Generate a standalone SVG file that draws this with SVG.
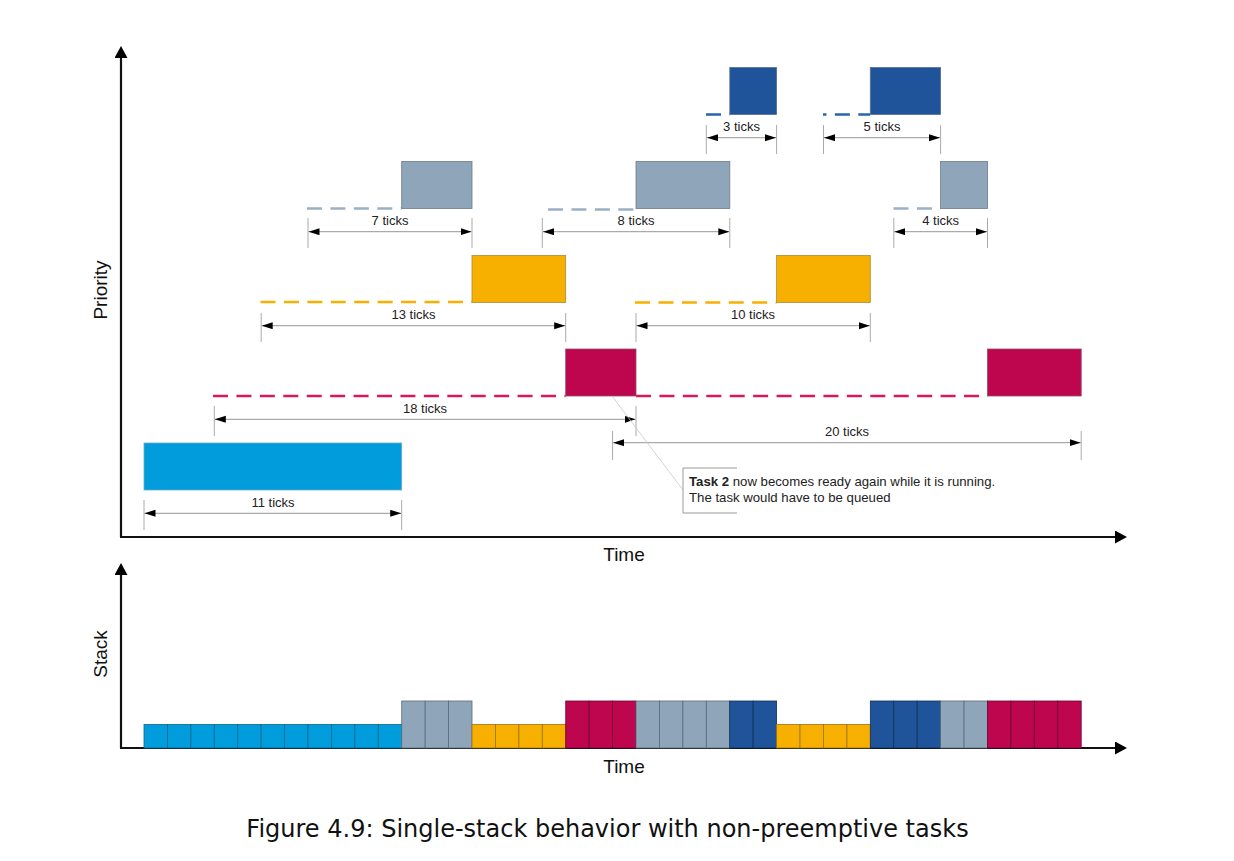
<svg xmlns="http://www.w3.org/2000/svg" width="1234" height="861" viewBox="0 0 1234 861">
<style>
text{font-family:"Liberation Sans",Arial,sans-serif;fill:#222}
.lbl{font-size:13px;text-anchor:middle}
.ax{stroke:#111;stroke-width:2.2;fill:none}
.dim{stroke:#aaa;stroke-width:1.2;fill:none}
.ext{stroke:#aaa;stroke-width:1;fill:none}
.dash{stroke-width:2.6;fill:none;stroke-dasharray:15 8.43}
.blue{fill:#009CDB;stroke:#6fa9c9;stroke-width:0.8}
.grey{fill:#8FA5BA;stroke:#6d7b89;stroke-width:0.8}
.yel{fill:#F7B000;stroke:#a98b3e;stroke-width:0.8}
.red{fill:#BD064E;stroke:#8f5068;stroke-width:0.8}
.dblu{fill:#1F549B;stroke:#5b6f8e;stroke-width:0.8}
.c-blue{fill:#009CDB;stroke:#0a6792;stroke-width:0.8}
.c-grey{fill:#8FA5BA;stroke:#5c6b7a;stroke-width:0.8}
.c-yel{fill:#F7B000;stroke:#9c7413;stroke-width:0.8}
.c-red{fill:#BD064E;stroke:#6e0430;stroke-width:0.8}
.c-dblu{fill:#1F549B;stroke:#0f2f5a;stroke-width:0.8}
.axlbl{font-size:19px;text-anchor:middle;fill:#111}
.note{font-size:13.2px}
</style>
<defs>
<marker id="ah" markerUnits="userSpaceOnUse" markerWidth="12" markerHeight="8" refX="11" refY="3.5" orient="auto-start-reverse">
<path d="M0,0 L11,3.5 L0,7 Z" fill="#000"/>
</marker>
<marker id="axh" markerUnits="userSpaceOnUse" markerWidth="14" markerHeight="14" refX="1" refY="6.5" orient="auto">
<path d="M0,0 L12,6.5 L0,13 Z" fill="#000"/>
</marker>
</defs>

<g id="axes">
<path class="ax" d="M121,537 L121,57" marker-end="url(#axh)"/>
<path class="ax" d="M120,537 L1116,537" marker-end="url(#axh)"/>
<text class="axlbl" x="107" y="290" transform="rotate(-90 107 290)">Priority</text>
<text class="axlbl" x="624" y="561">Time</text>
<path class="ax" d="M121,748 L121,574" marker-end="url(#axh)"/>
<path class="ax" d="M120,748 L1116,748" marker-end="url(#axh)"/>
<text class="axlbl" x="107" y="654" transform="rotate(-90 107 654)">Stack</text>
<text class="axlbl" x="624" y="773">Time</text>
</g>

<g id="waiting-lines">
<path class="dash" stroke="#2A63AE" d="M706,114.5 H729.8"/>
<path class="dash" stroke="#2A63AE" d="M870.3,114.5 H823" style="stroke-dashoffset:3"/>
<path class="dash" stroke="#9BB0C4" d="M307,208.5 H401.7"/>
<path class="dash" stroke="#9BB0C4" d="M548,209.5 H636"/>
<path class="dash" stroke="#9BB0C4" d="M893.5,208.5 H940.6"/>
<path class="dash" stroke="#F7B000" d="M260.5,302 H472"/>
<path class="dash" stroke="#F7B000" d="M635,302.5 H776.6"/>
<path class="dash" stroke="#D9185C" d="M213,396 H565.7"/>
<path class="dash" stroke="#D9185C" d="M636,396 H987.5"/>
</g>

<g id="task-blue"><rect class="blue" x="144" y="443" width="257.7" height="47"/></g>
<g id="task-grey-1"><rect class="grey" x="401.7" y="161.5" width="70.3" height="47"/></g>
<g id="task-yellow-1"><rect class="yel" x="472" y="255.5" width="93.7" height="47"/></g>
<g id="task-red-1"><rect class="red" x="565.7" y="349" width="70.3" height="47"/></g>
<g id="task-grey-2"><rect class="grey" x="636" y="161.5" width="93.8" height="47"/></g>
<g id="task-dblue-1"><rect class="dblu" x="729.8" y="67.5" width="46.8" height="47"/></g>
<g id="task-yellow-2"><rect class="yel" x="776.6" y="255.5" width="93.7" height="47"/></g>
<g id="task-dblue-2"><rect class="dblu" x="870.3" y="67.5" width="70.3" height="47"/></g>
<g id="task-grey-3"><rect class="grey" x="940.6" y="161.5" width="46.9" height="47"/></g>
<g id="task-red-2"><rect class="red" x="987.5" y="349" width="93.7" height="47"/></g>

<g id="dimensions">
<path class="ext" d="M706.3,125 V154 M776.6,125 V154"/>
<path class="dim" d="M707,137.7 H776" marker-start="url(#ah)" marker-end="url(#ah)"/>
<text class="lbl" x="741.5" y="131">3 ticks</text>
<path class="ext" d="M823.5,125 V154 M940.6,125 V154"/>
<path class="dim" d="M824,137.7 H940" marker-start="url(#ah)" marker-end="url(#ah)"/>
<text class="lbl" x="882" y="131">5 ticks</text>

<path class="ext" d="M308,218 V248 M472,218 V248"/>
<path class="dim" d="M308.5,231.7 H471.5" marker-start="url(#ah)" marker-end="url(#ah)"/>
<text class="lbl" x="390" y="225">7 ticks</text>
<path class="ext" d="M542.3,218 V248 M729.8,218 V248"/>
<path class="dim" d="M543,231.7 H729.3" marker-start="url(#ah)" marker-end="url(#ah)"/>
<text class="lbl" x="636" y="225">8 ticks</text>
<path class="ext" d="M893.8,218 V248 M987.5,218 V248"/>
<path class="dim" d="M894.3,231.7 H987" marker-start="url(#ah)" marker-end="url(#ah)"/>
<text class="lbl" x="940.6" y="225">4 ticks</text>

<path class="ext" d="M261.2,313 V342 M565.7,313 V342"/>
<path class="dim" d="M261.7,325.7 H565.2" marker-start="url(#ah)" marker-end="url(#ah)"/>
<text class="lbl" x="413.5" y="319">13 ticks</text>
<path class="ext" d="M636,313 V342 M870.3,313 V342"/>
<path class="dim" d="M636.5,325.7 H869.8" marker-start="url(#ah)" marker-end="url(#ah)"/>
<text class="lbl" x="753" y="319">10 ticks</text>

<path class="ext" d="M214.3,406 V436 M636,406 V436"/>
<path class="dim" d="M214.8,419.3 H635.5" marker-start="url(#ah)" marker-end="url(#ah)"/>
<text class="lbl" x="425" y="412.5">18 ticks</text>
<path class="ext" d="M612.6,431 V460 M1081.2,431 V460"/>
<path class="dim" d="M613.1,442.7 H1080.7" marker-start="url(#ah)" marker-end="url(#ah)"/>
<text class="lbl" x="847" y="436">20 ticks</text>

<path class="ext" d="M144,500 V530 M401.7,500 V530"/>
<path class="dim" d="M144.5,513.3 H401.2" marker-start="url(#ah)" marker-end="url(#ah)"/>
<text class="lbl" x="273" y="506.5">11 ticks</text>
</g>

<g id="callout">
<path d="M612,396 L683,490" stroke="#c8c8c8" stroke-width="0.8" fill="none"/>
<path d="M737,468 H683 V513 H737" stroke="#9a9a9a" stroke-width="1" fill="none"/>
<text class="note" x="689" y="486"><tspan font-weight="bold">Task 2</tspan> now becomes ready again while it is running.</text>
<text class="note" x="689" y="502">The task would have to be queued</text>
</g>

<g id="stack">
<g id="stack-blue">
<rect class="c-blue" x="144" y="724.5" width="23.43" height="23.5"/>
<rect class="c-blue" x="167.43" y="724.5" width="23.43" height="23.5"/>
<rect class="c-blue" x="190.86" y="724.5" width="23.43" height="23.5"/>
<rect class="c-blue" x="214.29" y="724.5" width="23.43" height="23.5"/>
<rect class="c-blue" x="237.72" y="724.5" width="23.43" height="23.5"/>
<rect class="c-blue" x="261.15" y="724.5" width="23.43" height="23.5"/>
<rect class="c-blue" x="284.58" y="724.5" width="23.43" height="23.5"/>
<rect class="c-blue" x="308.01" y="724.5" width="23.43" height="23.5"/>
<rect class="c-blue" x="331.44" y="724.5" width="23.43" height="23.5"/>
<rect class="c-blue" x="354.87" y="724.5" width="23.43" height="23.5"/>
<rect class="c-blue" x="378.3" y="724.5" width="23.43" height="23.5"/>
</g>
<g id="stack-grey-1">
<rect class="c-grey" x="401.73" y="701" width="23.43" height="47"/>
<rect class="c-grey" x="425.16" y="701" width="23.43" height="47"/>
<rect class="c-grey" x="448.59" y="701" width="23.43" height="47"/>
</g>
<g id="stack-yellow-1">
<rect class="c-yel" x="472.02" y="724.5" width="23.43" height="23.5"/>
<rect class="c-yel" x="495.45" y="724.5" width="23.43" height="23.5"/>
<rect class="c-yel" x="518.88" y="724.5" width="23.43" height="23.5"/>
<rect class="c-yel" x="542.31" y="724.5" width="23.43" height="23.5"/>
</g>
<g id="stack-red-1">
<rect class="c-red" x="565.74" y="701" width="23.43" height="47"/>
<rect class="c-red" x="589.17" y="701" width="23.43" height="47"/>
<rect class="c-red" x="612.6" y="701" width="23.43" height="47"/>
</g>
<g id="stack-grey-2">
<rect class="c-grey" x="636.03" y="701" width="23.43" height="47"/>
<rect class="c-grey" x="659.46" y="701" width="23.43" height="47"/>
<rect class="c-grey" x="682.89" y="701" width="23.43" height="47"/>
<rect class="c-grey" x="706.32" y="701" width="23.43" height="47"/>
</g>
<g id="stack-dblue-1">
<rect class="c-dblu" x="729.75" y="701" width="23.43" height="47"/>
<rect class="c-dblu" x="753.18" y="701" width="23.43" height="47"/>
</g>
<g id="stack-yellow-2">
<rect class="c-yel" x="776.61" y="724.5" width="23.43" height="23.5"/>
<rect class="c-yel" x="800.04" y="724.5" width="23.43" height="23.5"/>
<rect class="c-yel" x="823.47" y="724.5" width="23.43" height="23.5"/>
<rect class="c-yel" x="846.9" y="724.5" width="23.43" height="23.5"/>
</g>
<g id="stack-dblue-2">
<rect class="c-dblu" x="870.33" y="701" width="23.43" height="47"/>
<rect class="c-dblu" x="893.76" y="701" width="23.43" height="47"/>
<rect class="c-dblu" x="917.19" y="701" width="23.43" height="47"/>
</g>
<g id="stack-grey-3">
<rect class="c-grey" x="940.62" y="701" width="23.43" height="47"/>
<rect class="c-grey" x="964.05" y="701" width="23.43" height="47"/>
</g>
<g id="stack-red-2">
<rect class="c-red" x="987.48" y="701" width="23.43" height="47"/>
<rect class="c-red" x="1010.91" y="701" width="23.43" height="47"/>
<rect class="c-red" x="1034.34" y="701" width="23.43" height="47"/>
<rect class="c-red" x="1057.77" y="701" width="23.43" height="47"/>
</g>
</g>

<text x="607.5" y="837" style="font-family:'DejaVu Sans',sans-serif;font-size:24px;text-anchor:middle;fill:#111">Figure 4.9: Single-stack behavior with non-preemptive tasks</text>
</svg>
